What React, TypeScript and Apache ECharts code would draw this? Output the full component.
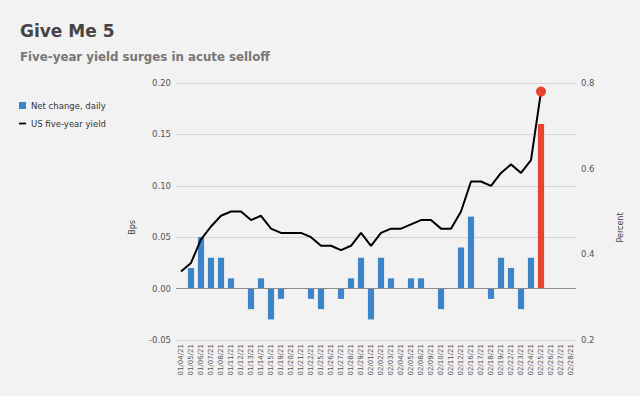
import React, { useEffect, useRef } from "react";
import * as echarts from "echarts";

const categories = [
  "01/04/21", "01/05/21", "01/06/21", "01/07/21", "01/08/21", "01/11/21", "01/12/21", "01/13/21",
  "01/14/21", "01/15/21", "01/19/21", "01/20/21", "01/21/21", "01/22/21", "01/25/21", "01/26/21",
  "01/27/21", "01/28/21", "01/29/21", "02/01/21", "02/02/21", "02/03/21", "02/04/21", "02/05/21",
  "02/08/21", "02/09/21", "02/10/21", "02/11/21", "02/12/21", "02/16/21", "02/17/21", "02/18/21",
  "02/19/21", "02/22/21", "02/23/21", "02/24/21", "02/25/21", "02/26/21", "02/27/21", "02/28/21",
];

const netChange: (number | null)[] = [
  0, 0.02, 0.05, 0.03, 0.03, 0.01, 0, -0.02,
  0.01, -0.03, -0.01, 0, 0, -0.01, -0.02, 0,
  -0.01, 0.01, 0.03, -0.03, 0.03, 0.01, 0, 0.01,
  0.01, 0, -0.02, 0, 0.04, 0.07, 0, -0.01,
  0.03, 0.02, -0.02, 0.03, 0.16, null, null, null,
];

const fiveYearYield: (number | null)[] = [
  0.36, 0.38, 0.435, 0.465, 0.49, 0.50, 0.50, 0.48,
  0.49, 0.46, 0.45, 0.45, 0.45, 0.44, 0.42, 0.42,
  0.41, 0.42, 0.45, 0.42, 0.45, 0.46, 0.46, 0.47,
  0.48, 0.48, 0.46, 0.46, 0.50, 0.57, 0.57, 0.56,
  0.59, 0.61, 0.59, 0.62, 0.78, null, null, null,
];

const highlightDate = "02/25/21";

const FONT = "DejaVu Sans";
const BLUE = "#3d85c9";
const RED = "#e8432f";

export default function App() {
  const ref = useRef<HTMLDivElement>(null);

  useEffect(() => {
    if (!ref.current) return;
    const chart = echarts.init(ref.current, undefined, { renderer: "svg" });
    const hi = categories.indexOf(highlightDate);

    chart.setOption({
      animation: false,
      backgroundColor: "#f2f2f2",
      textStyle: { fontFamily: FONT },
      title: {
        text: "Give Me 5",
        subtext: "Five-year yield surges in acute selloff",
        left: 20,
        top: 22,
        padding: 0,
        itemGap: 12,
        textStyle: { fontFamily: FONT, fontSize: 17, fontWeight: "bold", color: "#444444" },
        subtextStyle: { fontFamily: FONT, fontSize: 11.8, fontWeight: "bold", color: "#777777" },
      },
      legend: {
        orient: "vertical",
        left: 19,
        top: 101,
        itemWidth: 7,
        itemHeight: 7,
        itemGap: 9,
        padding: 0,
        textStyle: { fontFamily: FONT, fontSize: 8.5, color: "#333333" },
        data: [
          { name: "Net change, daily", icon: "rect" },
          { name: "US five-year yield", icon: "path://M0,0L8,0L8,2L0,2Z", itemStyle: { color: "#000000" } },
        ],
      },
      grid: { left: 176, right: 64, top: 83, bottom: 56, containLabel: false },
      xAxis: {
        type: "category",
        data: categories,
        axisLine: { show: false, onZero: false },
        axisTick: { show: false },
        axisLabel: {
          rotate: 90,
          interval: 0,
          fontFamily: FONT,
          fontSize: 7,
          color: "#555555",
          margin: 4,
        },
      },
      yAxis: [
        {
          type: "value",
          min: -0.05,
          max: 0.2,
          interval: 0.05,
          name: "Bps",
          nameLocation: "middle",
          nameGap: 40,
          nameTextStyle: { fontFamily: FONT, fontSize: 8, color: "#444444", padding: [0, 32, 0, 0] },
          axisLine: { show: false },
          axisTick: { show: false },
          axisLabel: {
            fontFamily: FONT,
            fontSize: 8.5,
            color: "#555555",
            margin: 5,
            formatter: (v: number) => v.toFixed(2),
          },
          splitLine: { show: true, lineStyle: { color: "#d4d4d4", width: 1 } },
        },
        {
          type: "value",
          min: 0.2,
          max: 0.8,
          interval: 0.2,
          name: "Percent",
          nameLocation: "middle",
          nameGap: 40,
          nameTextStyle: { fontFamily: FONT, fontSize: 8, color: "#444444", padding: [0, 32, 0, 0] },
          axisLine: { show: false },
          axisTick: { show: false },
          axisLabel: {
            fontFamily: FONT,
            fontSize: 8.5,
            color: "#555555",
            margin: 5,
            formatter: (v: number) => v.toFixed(1),
          },
          splitLine: { show: false },
        },
      ],
      series: [
        {
          name: "Net change, daily",
          type: "bar",
          yAxisIndex: 0,
          barWidth: "62%",
          itemStyle: { color: BLUE },
          data: netChange.map((v, i) =>
            i === hi ? { value: v, itemStyle: { color: RED } } : v
          ),
          markLine: {
            silent: true,
            symbol: "none",
            label: { show: false },
            lineStyle: { color: "#8c8c8c", width: 1, type: "solid" },
            data: [{ yAxis: 0 }],
          },
        },
        {
          name: "US five-year yield",
          type: "line",
          yAxisIndex: 1,
          symbol: "none",
          showSymbol: false,
          itemStyle: { color: "#000000" },
          lineStyle: { color: "#000000", width: 2 },
          data: fiveYearYield,
        },
        {
          name: "Latest",
          type: "scatter",
          yAxisIndex: 1,
          symbol: "circle",
          symbolSize: 10,
          itemStyle: { color: RED, opacity: 1 },
          z: 5,
          data: fiveYearYield.map((v, i) => (i === hi ? v : null)),
        },
      ],
    });

    return () => chart.dispose();
  }, []);

  return <div ref={ref} style={{ width: 640, height: 396, position: "absolute", left: 0, top: 0 }} />;
}
